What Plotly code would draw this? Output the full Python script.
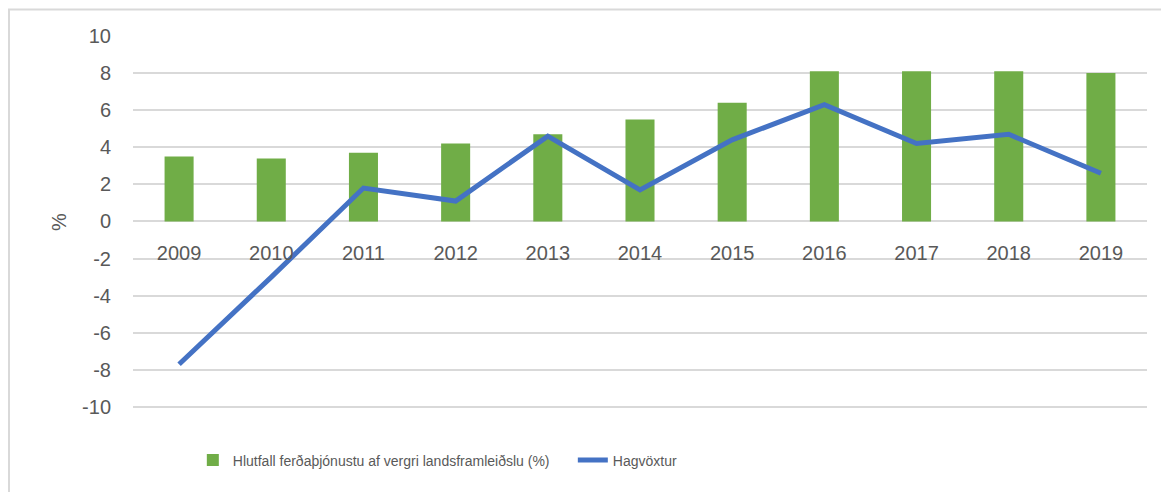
import plotly.graph_objects as go

years = ["2009", "2010", "2011", "2012", "2013", "2014", "2015", "2016", "2017", "2018", "2019"]
tourism_share = [3.5, 3.4, 3.7, 4.2, 4.7, 5.5, 6.4, 8.1, 8.1, 8.1, 8.0]
gdp_growth = [-7.7, -3.0, 1.8, 1.1, 4.6, 1.7, 4.4, 6.3, 4.2, 4.7, 2.6]

bar_name = "Hlutfall ferðaþjónustu af vergri landsframleiðslu (%)"
line_name = "Hagvöxtur"
y_ticks = [-10, -8, -6, -4, -2, 0, 2, 4, 6, 8, 10]
y_ticktext = [str(v) for v in y_ticks]

fig = go.Figure()
fig.add_trace(go.Bar(x=years, y=tourism_share, name=bar_name,
                     marker=dict(color="#70ad47", line=dict(width=0))))
fig.add_trace(go.Scatter(x=years, y=gdp_growth, name=line_name, mode="lines",
                         line=dict(color="#4472c4", width=5)))

fig.update_layout(
    width=1169, height=492,
    margin=dict(l=125, r=30, t=27.5, b=92),
    paper_bgcolor="white", plot_bgcolor="white",
    bargap=0.685,
    font=dict(family="Liberation Sans, Arial, sans-serif", color="#595959"),
    showlegend=True,
    legend=dict(orientation="h", x=0.059, xanchor="left", y=-0.141, yanchor="middle",
                font=dict(family="Liberation Sans, Arial", size=14, color="#595959"),
                traceorder="normal", itemwidth=30, entrywidth=335),
    xaxis=dict(type="category", anchor="free", position=0.5, showgrid=False,
               showline=False, ticks="outside", ticklen=13, tickcolor="rgba(0,0,0,0)",
               tickfont=dict(size=20, color="#595959")),
    yaxis=dict(range=[-10.06, 10], tickvals=y_ticks, ticktext=y_ticktext, showgrid=True,
               gridcolor="#d9d9d9", gridwidth=1.5, zeroline=True, zerolinecolor="#d9d9d9",
               zerolinewidth=1.5, tickfont=dict(size=20, color="#595959"), ticklabelstandoff=21,
               title=dict(text="%", font=dict(size=20, color="#595959"), standoff=10)),
)

fig.add_shape(type="rect", xref="paper", yref="paper",
              x0=-0.1223, x1=1.03, y0=-0.26, y1=1.0714,
              line=dict(color="#d9d9d9", width=2), fillcolor="rgba(0,0,0,0)", layer="below")

fig.write_html("out.html")
